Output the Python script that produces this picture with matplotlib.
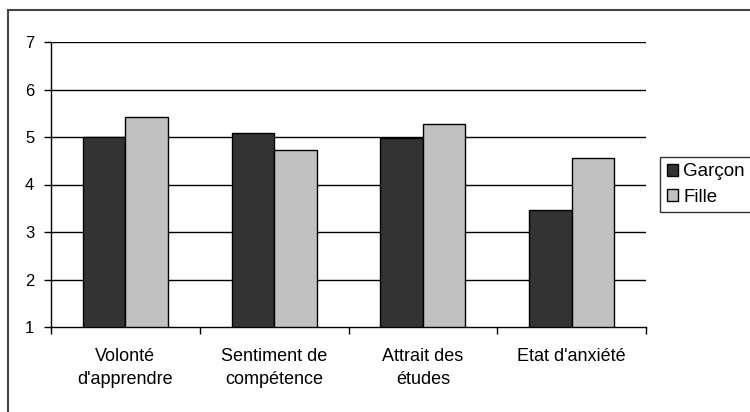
import matplotlib.pyplot as plt
from matplotlib.patches import Rectangle
import numpy as np

plt.rcParams['font.family'] = ['Liberation Sans', 'DejaVu Sans']

categories = ["Volonté\nd'apprendre", "Sentiment de\ncompétence", "Attrait des\nétudes", "Etat d'anxiété"]
garcon = [4.99, 5.08, 4.97, 3.46]
fille = [5.42, 4.73, 5.27, 4.55]
series_names = ["Garçon", "Fille"]

fig = plt.figure(figsize=(7.5, 4.12), dpi=100)
ax = fig.add_axes([51/750, 1 - 327/412, 595/750, 285/412])

x = np.arange(len(categories))
w = 0.285
ax.bar(x - w/2, np.array(garcon) - 1, w, bottom=1, color='#333333', edgecolor='black', linewidth=1, label=series_names[0], zorder=3)
ax.bar(x + w/2, np.array(fille) - 1, w, bottom=1, color='#c0c0c0', edgecolor='black', linewidth=1, label=series_names[1], zorder=3)

ax.set_xlim(-0.5, len(categories) - 0.5)
ax.set_ylim(1, 7)
ax.set_yticks(range(1, 8))
for v in range(2, 8):
    ax.axhline(v, color='black', linewidth=1, zorder=1)

# category boundaries get the ticks, names sit in between
ax.set_xticks(np.arange(-0.5, len(categories)), minor=False)
ax.set_xticklabels([])
ax.set_xticks(x, minor=True)
ax.set_xticklabels(categories, minor=True, fontsize=13, linespacing=1.45)
ax.tick_params(axis='x', which='minor', length=0, pad=15)
ax.tick_params(axis='x', which='major', length=5, width=1, direction='out')
ax.tick_params(axis='y', length=5, width=1, direction='out', labelsize=12, pad=7)

for s in ['top', 'right']:
    ax.spines[s].set_visible(False)
for s in ['left', 'bottom']:
    ax.spines[s].set_linewidth(1)

leg = fig.legend(loc='center left', bbox_to_anchor=(660/750, 1 - 184.5/412), fontsize=13.5,
                 frameon=True, fancybox=False, edgecolor='black', handlelength=0.6,
                 handleheight=0.6, handletextpad=0.3, labelspacing=0.45, borderpad=0.35,
                 borderaxespad=0)
leg.get_frame().set_linewidth(1)

fig.patches.append(Rectangle((8/750, -0.1), 1.1, 1.1 - 10/412, transform=fig.transFigure,
                             fill=False, edgecolor='#444444', linewidth=1.5))

fig.savefig('out.png', dpi=100)
